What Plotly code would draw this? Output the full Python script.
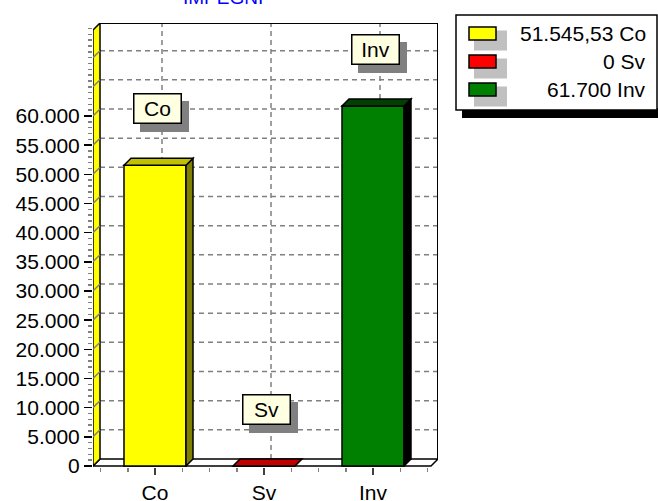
import plotly.graph_objects as go

# ---------------- data ----------------
categories = ["Co", "Sv", "Inv"]
values = [51545.53, 0, 61700]
bar_colors = ["#FFFF00", "#FF0000", "#008000"]
top_colors = ["#C0C000", "#C00000", "#004000"]
side_colors = ["#808000", "#800000", "#000000"]
y_tick_values = list(range(0, 60001, 5000))
grid_values = list(range(5000, 70001, 5000))
title_text = "IMPEGNI"


def fmt_it(v):
    if abs(v - round(v)) < 1e-9:
        return f"{int(round(v)):,}".replace(",", ".")
    s = f"{v:,.2f}"
    return s.replace(",", "X").replace(".", ",").replace("X", ".")


FONT = "Arial, 'Liberation Sans', sans-serif"
FS = 21

# ---------------- geometry ----------------
W, H = 658, 501
L, R, T, B = 93, 438, 23, 467          # plot area in pixels
PXC = 109.0                            # pixels per category
Y0PX = 466.0                           # pixel row of value 0
UPP = 60000 / 350.0                    # data units per pixel
x_lo = -0.5 - (100.5 - L) / PXC
x_hi = x_lo + (R - L) / PXC
y_lo = -(B - Y0PX) * UPP
y_hi = (Y0PX - T) * UPP
DX = 7 / PXC
DY = 7 * UPP
BW = 62 / PXC

idx = list(range(len(categories)))


def px(xp):
    return (xp - L) / (R - L)


def py(yp):
    return (B - yp) / (B - T)


shapes = []
GRID = dict(color="#808080", width=1.5, dash="5px,4px")

# back wall gridlines (horizontal)
for v in grid_values:
    shapes.append(dict(type="line", xref="x", yref="y", layer="below",
                       x0=x_lo + DX, x1=x_hi, y0=v + DY, y1=v + DY, line=GRID))
# vertical gridlines at categories
for i in idx:
    shapes.append(dict(type="line", xref="x", yref="y", layer="below",
                       x0=i + DX, x1=i + DX, y0=DY, y1=y_hi, line=GRID))

# floor
shapes.append(dict(type="path", xref="x", yref="y", layer="below",
                   path=f"M {x_lo},0 L {x_hi - DX},0 L {x_hi},{DY} L {x_lo + DX},{DY} Z",
                   fillcolor="white", line=dict(color="black", width=1.5)))
# left wall
shapes.append(dict(type="path", xref="x", yref="y", layer="below",
                   path=f"M {x_lo},0 L {x_lo + DX},{DY} L {x_lo + DX},{y_hi} L {x_lo},{y_hi - DY} Z",
                   fillcolor="#FFFF00", line=dict(color="black", width=1.5)))
for v in y_tick_values[1:] + grid_values[len(y_tick_values) - 1:]:
    shapes.append(dict(type="line", xref="x", yref="y", layer="below",
                       x0=x_lo, x1=x_lo + DX, y0=v, y1=v + DY,
                       line=dict(color="#808080", width=1.5)))
# back wall top and right edges
shapes.append(dict(type="line", xref="x", yref="y", layer="below",
                   x0=x_lo + DX, x1=x_hi, y0=y_hi, y1=y_hi,
                   line=dict(color="black", width=2)))
shapes.append(dict(type="line", xref="x", yref="y", layer="below",
                   x0=x_hi, x1=x_hi, y0=DY, y1=y_hi,
                   line=dict(color="black", width=2)))

# 3D faces of bars
for i, v in enumerate(values):
    a, b = i - BW / 2, i + BW / 2
    if v > 0:
        shapes.append(dict(type="path", xref="x", yref="y", layer="above",
                           path=f"M {b},0 L {b},{v} L {b + DX},{v + DY} L {b + DX},{DY} Z",
                           fillcolor=side_colors[i], line=dict(color="black", width=1.5)))
    shapes.append(dict(type="path", xref="x", yref="y", layer="above",
                       path=f"M {a},{v} L {b},{v} L {b + DX},{v + DY} L {a + DX},{v + DY} Z",
                       fillcolor=top_colors[i], line=dict(color="black", width=1.5)))

# legend box
shapes.append(dict(type="rect", xref="paper", yref="paper", layer="above",
                   x0=px(462), x1=px(660), y0=py(118), y1=py(108),
                   fillcolor="black", line=dict(width=0)))
shapes.append(dict(type="rect", xref="paper", yref="paper", layer="above",
                   x0=px(456), x1=px(657), y0=py(110), y1=py(15),
                   fillcolor="white", line=dict(color="black", width=1.5)))
annotations = []
for k, (c, v) in enumerate(zip(categories, values)):
    yc = 33.5 + k * 28
    shapes.append(dict(type="rect", xref="paper", yref="paper", layer="above",
                       x0=px(474), x1=px(507), y0=py(yc + 17), y1=py(yc - 3),
                       fillcolor="#C0C0C0", line=dict(width=0)))
    shapes.append(dict(type="rect", xref="paper", yref="paper", layer="above",
                       x0=px(469), x1=px(496), y0=py(yc + 6.5), y1=py(yc - 6.5),
                       fillcolor=bar_colors[k], line=dict(color="black", width=1.5)))
    annotations.append(dict(xref="paper", yref="paper", x=px(648), y=py(yc),
                            xanchor="right", yanchor="middle", showarrow=False,
                            text=f"{fmt_it(v)} {c}",
                            font=dict(family=FONT, size=FS, color="black")))

# value label boxes
for i, (c, v) in enumerate(zip(categories, values)):
    annotations.append(dict(x=i, y=v, xref="x", yref="y", showarrow=False,
                            xshift=2 + 7.5, yshift=57 - 8, text="",
                            width=46, height=28, bgcolor="#808080",
                            bordercolor="#808080", borderwidth=1.5, borderpad=0))
    annotations.append(dict(x=i, y=v, xref="x", yref="y", showarrow=False,
                            xshift=2, yshift=57, text=c,
                            width=46, height=28, bgcolor="#FFFFE1",
                            bordercolor="black", borderwidth=1.5, borderpad=0,
                            align="center", valign="middle",
                            font=dict(family=FONT, size=FS, color="black")))

# title (clipped at top of page)
annotations.append(dict(xref="paper", yref="paper", x=px(223), y=py(9),
                        xanchor="center", yanchor="bottom", showarrow=False,
                        text=title_text, borderpad=0,
                        font=dict(family=FONT, size=19, color="#0000FF")))

fig = go.Figure()
fig.add_trace(go.Bar(x=idx, y=values, width=BW,
                     marker=dict(color=bar_colors, line=dict(color="black", width=1.5)),
                     hoverinfo="skip", showlegend=False))

fig.update_layout(
    template="none",
    width=W, height=H,
    margin=dict(l=L, r=W - R, t=T, b=H - B, pad=0, autoexpand=False),
    paper_bgcolor="white", plot_bgcolor="white",
    font=dict(family=FONT, size=FS, color="black"),
    showlegend=False,
    shapes=shapes,
    annotations=annotations,
    xaxis=dict(range=[x_lo, x_hi], tickmode="array", tickvals=idx, ticktext=categories,
               automargin=False,
               ticks="outside", ticklen=7, tickwidth=1.5, tickcolor="#404040",
               minor=dict(tickmode="linear", tick0=0, dtick=0.25, ticks="outside",
                          ticklen=4, tickwidth=1.5, tickcolor="#808080"),
               showgrid=False, zeroline=False, showline=False,
               tickfont=dict(family=FONT, size=FS, color="black"), fixedrange=True),
    yaxis=dict(range=[y_lo, y_hi], tickmode="array", tickvals=y_tick_values,
               ticktext=[fmt_it(v) for v in y_tick_values],
               automargin=False,
               ticks="outside", ticklen=8, tickwidth=1.5, tickcolor="black",
               minor=dict(tickmode="linear", tick0=0, dtick=1000, ticks="outside",
                          ticklen=4, tickwidth=1.5, tickcolor="#808080"),
               showgrid=False, zeroline=False, showline=False,
               tickfont=dict(family=FONT, size=FS, color="black"), fixedrange=True),
)

fig.write_html(
    "out.html",
    config={"displayModeBar": False, "staticPlot": True},
    post_script="document.body.style.margin='0';document.body.style.overflow='hidden';",
)
